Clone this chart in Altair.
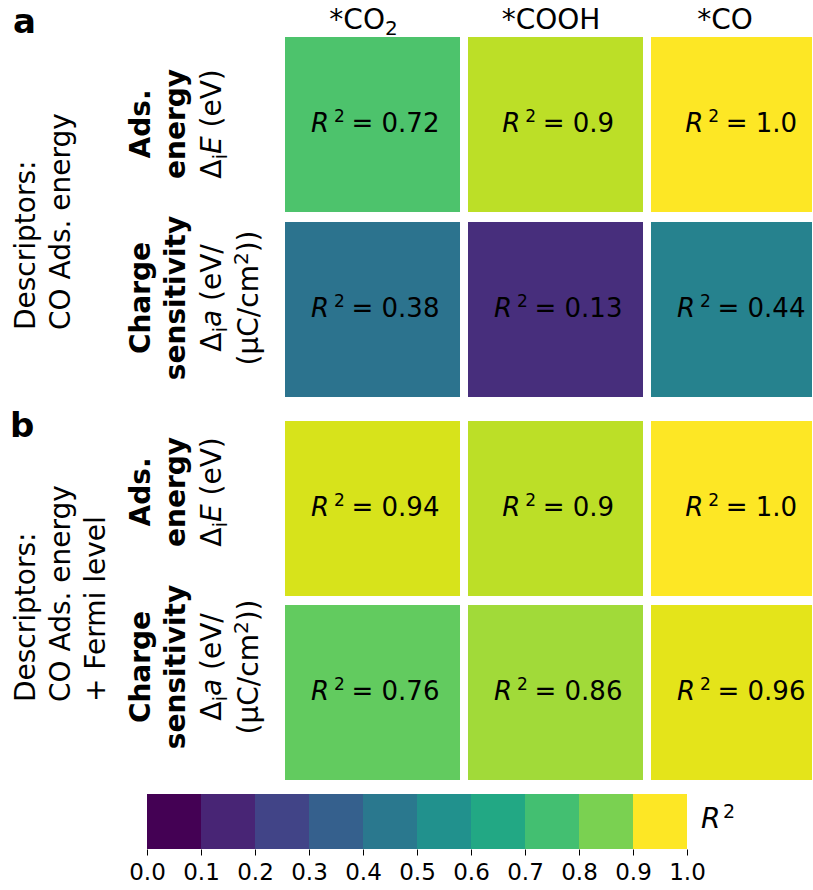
import altair as alt
import pandas as pd

FONT = "DejaVu Sans"

# ---- data -------------------------------------------------------------
columns = ["*CO₂", "*COOH", "*CO"]
rows = ["Ads. energy", "Charge sensitivity"]
r2_a = [[0.72, 0.9, 1.0], [0.38, 0.13, 0.44]]   # descriptors: CO ads. energy
r2_b = [[0.94, 0.9, 1.0], [0.76, 0.86, 0.96]]   # descriptors: CO ads. energy + Fermi level
bin_edges = [0.0, 0.1, 0.2, 0.3, 0.4, 0.5, 0.6, 0.7, 0.8, 0.9, 1.0]
bin_levels = [0.0, 0.1, 0.2, 0.3, 0.4, 0.5, 0.6, 0.7, 0.8, 1.0]  # colour of each colour-bar band

VIRIDIS = alt.Scale(scheme="viridis", domain=[0, 1])

# approximate DejaVu Sans advance widths (em), used to lay out mixed-style text runs
ADV = {" ": 0.318, "(": 0.390, ")": 0.390, "/": 0.337, ".": 0.318,
       ":": 0.337, "+": 0.838, "=": 0.838, "*": 0.500, "2": 0.636, "C": 0.698,
       "E": 0.632, "H": 0.752, "O": 0.787, "V": 0.684, "a": 0.613, "c": 0.550,
       "e": 0.615, "i": 0.278, "m": 0.974, "μ": 0.636, "Δ": 0.684}
SUBSCRIPTS = str.maketrans("₀₁₂₃₄₅₆₇₈₉", "0123456789")


def run_width(s, size):
    return sum(ADV.get(ch, 0.6) for ch in s) * size


PANEL_W = 665
COL_RANGE = [138, 679]
COL_PAD = 8 / 183
HEADER_NUDGE = [-9, -4.5, -13.5]


def text_at(text, x, y, size, **props):
    return alt.Chart(pd.DataFrame({"t": [text]})).mark_text(
        fontSize=size, color="black", **props
    ).encode(x=alt.value(x), y=alt.value(y), text="t:N")


def rotated_runs(runs, x, yc, size):
    """A vertical line of text made of runs: n=normal, i=italic, sub/sup=small shifted."""
    small = round(size * 0.7)
    sizes = {"n": size, "i": size, "sub": small, "sup": small}
    shifts = {"n": 0, "i": 0, "sub": 0.2 * size, "sup": -0.36 * size}
    widths = [run_width(t, sizes[k]) for t, k in runs]
    pos = -sum(widths) / 2
    layers = []
    for (t, k), w in zip(runs, widths):
        # leading blanks are dropped by the renderer, so turn them into an offset
        lead = len(t) - len(t.lstrip(" "))
        props = dict(angle=270, align="left", baseline="alphabetic",
                     dx=pos + run_width(" " * lead, sizes[k]), dy=shifts[k])
        if k == "i":
            props["fontStyle"] = "italic"
        layers.append(text_at(t.lstrip(" "), x, yc, sizes[k], **props))
        pos += w
    return layers


def bold_rotated(text, x, yc, size=28):
    return text_at(text, x, yc, size, angle=270, align="center",
                   baseline="alphabetic", fontWeight="bold")


def row_labels(x_base, y_ads, y_charge, size=28):
    layers = [
        bold_rotated("Ads.", x_base[0], y_ads),
        bold_rotated("energy", x_base[1], y_ads),
        bold_rotated("Charge", x_base[0], y_charge),
        bold_rotated("sensitivity", x_base[1], y_charge),
    ]
    layers += rotated_runs([("Δ", "n"), ("i", "sub"), ("E", "i"), (" (eV)", "n")],
                           x_base[2], y_ads, size)
    layers += rotated_runs([("Δ", "n"), ("i", "sub"), ("a", "i"), (" (eV/", "n")],
                           x_base[2], y_charge, size)
    layers += rotated_runs([("(μC/cm", "n"), ("2", "sup"), ("))", "n")],
                           x_base[3], y_charge, size)
    return layers


def descriptor_lines(lines, x0, y_bottom, size=28):
    return [text_at(t, x0 + 35 * i, y_bottom, size, angle=270, align="left",
                    baseline="alphabetic") for i, t in enumerate(lines)]


def header_layers(xs, size=28):
    """Column titles above the grid; trailing subscript digits are set small and lowered."""
    layers = []
    for label, nudge in zip(columns, HEADER_NUDGE):
        main = label.rstrip("₀₁₂₃₄₅₆₇₈₉")
        sub = label[len(main):].translate(SUBSCRIPTS)
        small = round(size * 0.7)
        w_main = run_width(main, size)
        w_sub = run_width(sub, small)
        start = -(w_main + w_sub) / 2 + nudge
        src = alt.Chart(pd.DataFrame({"col": [label], "main": [main], "sub": [sub]}))
        enc = dict(x=alt.X("col:N", scale=xs, axis=None), y=alt.value(-8))
        layers.append(src.mark_text(fontSize=size, align="left", baseline="alphabetic",
                                    color="black", dx=start).encode(text="main:N", **enc))
        if sub:
            layers.append(src.mark_text(fontSize=small, align="left", baseline="alphabetic",
                                        color="black", dx=start + w_main, dy=6)
                          .encode(text="sub:N", **enc))
    return layers


def panel(values, height, y_span, y_pad, letter, letter_pos, desc, desc_bottom,
          y_ads, y_charge, header=False):
    df = pd.DataFrame([
        {"col": c, "row": r, "r2": values[i][j], "txt": str(values[i][j])}
        for i, r in enumerate(rows) for j, c in enumerate(columns)
    ])
    xs = alt.Scale(domain=columns, range=COL_RANGE, paddingInner=COL_PAD, paddingOuter=0)
    ys = alt.Scale(domain=rows, range=[0, y_span], paddingInner=y_pad, paddingOuter=0)
    base = alt.Chart(df).encode(
        x=alt.X("col:N", scale=xs, axis=None),
        y=alt.Y("row:N", scale=ys, axis=None),
    )
    cells = base.mark_rect(clip=True).encode(
        color=alt.Color("r2:Q", scale=VIRIDIS, legend=None)
    )
    txt = base.transform_calculate(
        sx="-28.5 - 8.25 * length(datum.txt)", eq="'= ' + datum.txt"
    )
    r_mark = txt.mark_text(text="R", fontSize=26, fontStyle="italic", align="left",
                           baseline="alphabetic", color="black",
                           dx=alt.ExprRef(expr="datum.sx"), dy=7.5)
    sup = txt.mark_text(text="2", fontSize=17, align="left", baseline="alphabetic",
                        color="black", dx=alt.ExprRef(expr="datum.sx + 23"), dy=-2.5)
    val = txt.mark_text(fontSize=26, align="left", baseline="alphabetic", color="black",
                        dx=alt.ExprRef(expr="datum.sx + 40.5"), dy=7.5).encode(text="eq:N")
    layers = [cells, r_mark, sup, val]
    if header:
        layers += header_layers(xs)
    layers.append(text_at(letter, letter_pos[0], letter_pos[1], 34, fontWeight="bold",
                          align="left", baseline="alphabetic"))
    layers += descriptor_lines(desc, -112, desc_bottom)
    layers += row_labels([3, 38, 74, 111], y_ads, y_charge)
    return alt.layer(*layers).properties(width=PANEL_W, height=height)


panel_a = panel(r2_a, 370, 360, 10 / 185, "a", (-134, -4),
                ["Descriptors:", "CO Ads. energy"], 293, 87, 261, header=True)
panel_b = panel(r2_b, 359, 359, 9 / 184, "b", (-137, 16),
                ["Descriptors:", "CO Ads. energy", "+ Fermi level"], 281, 71, 246)

# ---- colour bar -------------------------------------------------------
cb = pd.DataFrame({"lo": bin_edges[:-1], "hi": bin_edges[1:], "level": bin_levels})
bar = alt.Chart(cb).mark_rect().encode(
    x=alt.X("lo:Q", scale=alt.Scale(domain=[0, 1], nice=False, zero=False),
            axis=alt.Axis(values=bin_edges, format=".1f", title=None, domain=False,
                          grid=False, tickSize=6, tickColor="black", labelColor="black",
                          labelFontSize=23, labelPadding=6, labelFlush=False,
                          labelOverlap=False)),
    x2="hi:Q",
    color=alt.Color("level:Q", scale=VIRIDIS, legend=None),
)
cbar = alt.layer(
    bar,
    text_at("R", 554, 34, 28, fontStyle="italic", align="left", baseline="alphabetic"),
    text_at("2", 576, 24, 19, align="left", baseline="alphabetic"),
).properties(width=540, height=55)

chart = alt.vconcat(panel_a, panel_b, cbar, spacing=14, bounds="flush").resolve_scale(
    x="independent", y="independent", color="independent"
).properties(
    padding={"left": 10, "top": 6, "right": 0, "bottom": 2},
    background="white",
).configure(font=FONT).configure_view(stroke=None)

chart.save("out.html", embed_options={"renderer": "svg", "actions": False})
